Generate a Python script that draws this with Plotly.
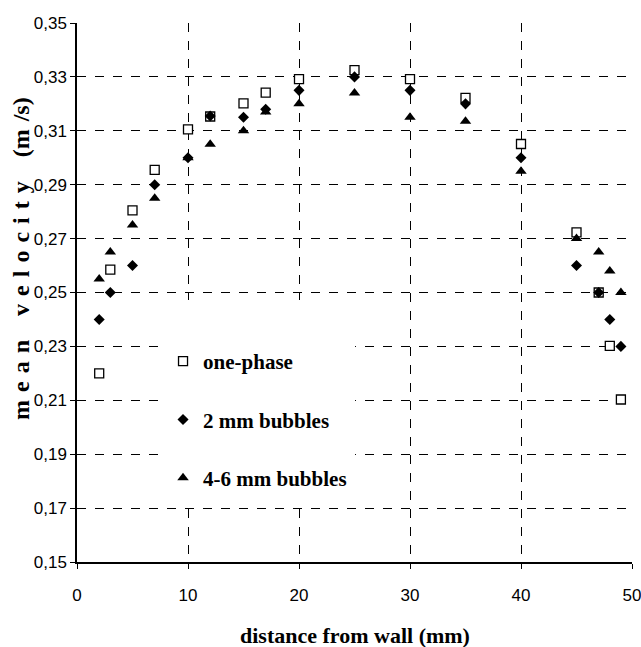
import plotly.graph_objects as go

x_one = [2, 3, 5, 7, 10, 12, 15, 17, 20, 25, 30, 35, 40, 45, 47, 48, 49]
y_one = [0.220, 0.2585, 0.2805, 0.2955, 0.3105, 0.3153, 0.3202, 0.3242, 0.3292, 0.3325, 0.3292, 0.3222, 0.3051, 0.2723, 0.250, 0.2302, 0.2103]

x_two = [2, 3, 5, 7, 10, 12, 15, 17, 20, 25, 30, 35, 40, 45, 47, 48, 49]
y_two = [0.240, 0.250, 0.260, 0.290, 0.300, 0.3155, 0.315, 0.318, 0.325, 0.330, 0.325, 0.320, 0.300, 0.260, 0.250, 0.240, 0.230]

x_tri = [2, 3, 5, 7, 10, 12, 15, 17, 20, 25, 30, 35, 40, 45, 47, 48, 49]
y_tri = [0.255, 0.265, 0.275, 0.285, 0.300, 0.305, 0.310, 0.317, 0.320, 0.324, 0.315, 0.3135, 0.295, 0.270, 0.265, 0.258, 0.250]

names = ["one-phase", "2 mm bubbles", "4-6 mm bubbles"]
x_ticks = [0, 10, 20, 30, 40, 50]
y_ticks = [0.15, 0.17, 0.19, 0.21, 0.23, 0.25, 0.27, 0.29, 0.31, 0.33, 0.35]

fig = go.Figure()
fig.add_trace(go.Scatter(x=x_one, y=y_one, mode="markers", name=names[0], legendgroup="a",
                         marker=dict(symbol="square", size=9, color="white", line=dict(color="black", width=1.3))))
fig.add_trace(go.Scatter(x=x_two, y=y_two, mode="markers", name=names[1], legendgroup="b",
                         marker=dict(symbol="diamond", size=8.5, color="black", line=dict(width=0))))
fig.add_trace(go.Scatter(x=x_tri, y=y_tri, mode="markers", name=names[2], legendgroup="c",
                         marker=dict(symbol="triangle-up", size=10, color="black", line=dict(width=0))))

grid = dict(showgrid=True, gridcolor="black", griddash="dash", gridwidth=1)
fig.update_layout(
    width=641, height=647,
    margin=dict(l=77, r=9, t=23, b=85),
    paper_bgcolor="white", plot_bgcolor="white",
    separators=",.",
    showlegend=True,
    legend=dict(x=0.155, y=0.41, xanchor="left", yanchor="top", bgcolor="rgba(0,0,0,0)",
                borderwidth=0, tracegroupgap=28,
                font=dict(family="Liberation Serif", size=21, color="black", weight="bold"),
                itemsizing="trace"),
    shapes=[dict(type="rect", xref="paper", yref="paper", x0=0.160, x1=0.501, y0=0.115, y1=0.486,
                 fillcolor="white", line=dict(width=0), layer="above")],
    xaxis=dict(range=[0, 50], tickvals=x_ticks, ticks="outside", ticklen=5, tickcolor="black",
               showline=True, linecolor="black", linewidth=1.5, zeroline=False, ticklabelstandoff=12,
               ticklabeloverflow="allow", automargin=False,
               tickfont=dict(family="Liberation Sans", size=17, color="black"), **grid),
    yaxis=dict(range=[0.15, 0.35], tickvals=y_ticks, tickformat=".2f", ticks="outside", ticklen=5,
               tickcolor="black", showline=True, linecolor="black", linewidth=1.5, zeroline=False,
               ticklabeloverflow="allow", automargin=False,
               tickfont=dict(family="Liberation Sans", size=17, color="black"), **grid),
    annotations=[
        dict(text="m\u2004e\u2004a\u2004n\u2003v\u2004e\u2004l\u2004o\u2004c\u2004i\u2004t\u2004y\u2003(m\u2004/s)",
             xref="paper", yref="paper",
             x=-0.101, y=0.564, textangle=-90, showarrow=False, xanchor="center", yanchor="middle",
             font=dict(family="Liberation Serif", size=24, color="black", weight="bold")),
        dict(text="distance from wall (mm)", xref="paper", yref="paper", x=0.501, y=-0.137,
             showarrow=False, xanchor="center", yanchor="middle",
             font=dict(family="Liberation Serif", size=22, color="black", weight="bold")),
    ],
)
fig.write_html("out.html", config={"displayModeBar": False},
               post_script="document.body.style.margin='0px';")
